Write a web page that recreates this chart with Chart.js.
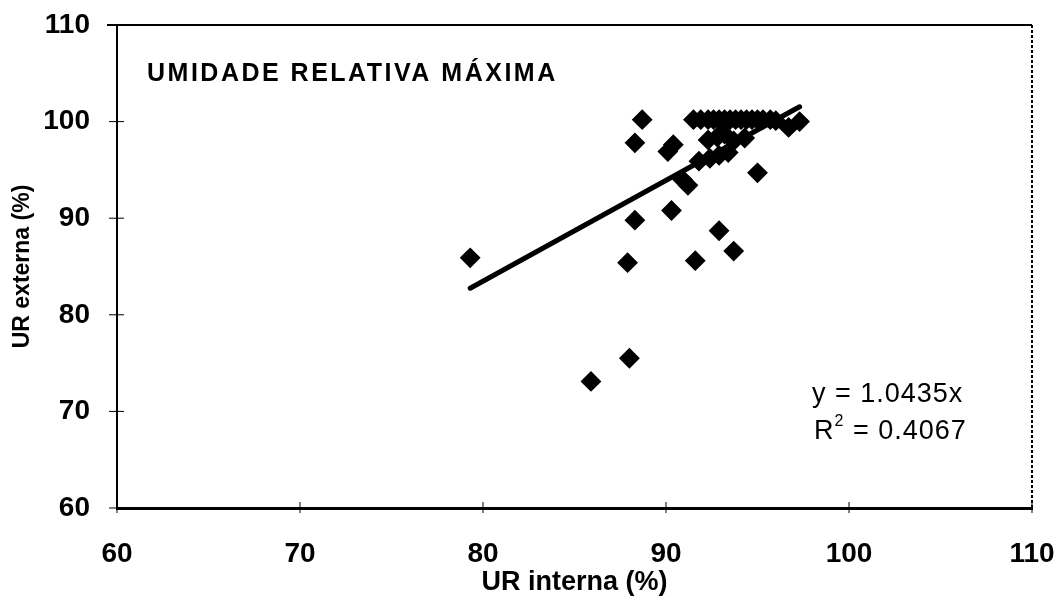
<!DOCTYPE html>
<html>
<head>
<meta charset="utf-8">
<script src="https://cdn.jsdelivr.net/npm/chart.js@4"></script>
<style>
  html, body { margin: 0; padding: 0; background: #fff; }
  #wrap { width: 1059px; height: 601px; position: relative; }
</style>
</head>
<body>
<div id="wrap"><canvas id="chart-ur-max"></canvas></div>
<script>
  // UR interna (x) vs UR externa (y), daily maximums
  const UR_INTERNA = [
    88.7, 91.5, 91.9, 92.3, 92.6, 92.9, 93.2, 93.5, 93.8, 94.1, 94.4, 94.7, 95.0, 95.3, 95.7,
    96.0, 96.7, 97.3,
    92.3, 92.8, 93.2, 93.7, 94.3,
    91.8, 92.4, 92.9, 93.4,
    88.3, 90.1, 90.4,
    79.3, 88.3, 90.3, 90.9, 91.2, 95.0,
    92.9, 93.7, 87.9, 91.6, 88.0, 85.9,
  ];
  const UR_EXTERNA = [
    100.2, 100.2, 100.2, 100.2, 100.2, 100.2, 100.2, 100.2, 100.2, 100.2, 100.2, 100.2, 100.2, 100.2, 100.2,
    100.1, 99.4, 100.0,
    98.1, 98.4, 98.7, 98.0, 98.3,
    95.9, 96.2, 96.5, 96.8,
    97.8, 96.9, 97.6,
    85.9, 89.8, 90.8, 94.0, 93.4, 94.7,
    88.7, 86.6, 85.4, 85.6, 75.5, 73.1,
  ];
  const AXIS_TICKS = [60, 70, 80, 90, 100, 110];
  const SLOPE = 1.0435;
  const R2 = 0.4067;
  const TITLE = 'UMIDADE RELATIVA MÁXIMA';

  const points = UR_INTERNA.map((x, i) => ({ x, y: UR_EXTERNA[i] }));
  const xMin = Math.min(...UR_INTERNA);
  const xMax = Math.max(...UR_INTERNA);
  const trend = [xMin, xMax].map(x => ({ x, y: SLOPE * x }));

  const FONT = 'Liberation Sans, Arial, sans-serif';

  // tick marks crossing both axes, frame on top/right, and the text labels
  const decor = {
    id: 'decor',
    afterDraw(chart) {
      const { ctx, chartArea: a, scales } = chart;
      ctx.save();
      ctx.strokeStyle = '#000';

      // top border
      ctx.lineWidth = 2;
      ctx.beginPath();
      ctx.moveTo(a.left - 10, a.top);
      ctx.lineTo(a.right, a.top);
      ctx.stroke();

      // right border, dotted
      ctx.lineWidth = 2;
      ctx.setLineDash([3, 2]);
      ctx.beginPath();
      ctx.moveTo(a.right, a.top);
      ctx.lineTo(a.right, a.bottom);
      ctx.stroke();
      ctx.setLineDash([]);

      // y ticks
      ctx.lineWidth = 1;
      for (const v of AXIS_TICKS) {
        const py = scales.y.getPixelForValue(v);
        ctx.beginPath();
        ctx.moveTo(a.left - 8, py);
        ctx.lineTo(a.left + 7, py);
        ctx.stroke();
      }
      // x ticks
      for (const v of AXIS_TICKS) {
        const px = scales.x.getPixelForValue(v);
        ctx.beginPath();
        ctx.moveTo(px, a.bottom - 6);
        ctx.lineTo(px, a.bottom + 5);
        ctx.stroke();
      }

      ctx.fillStyle = '#000';
      ctx.textBaseline = 'middle';
      ctx.textAlign = 'left';
      ctx.font = 'bold 25px ' + FONT;
      ctx.letterSpacing = '2.5px';
      ctx.fillText(TITLE, 147, 74);

      ctx.font = '27px ' + FONT;
      ctx.letterSpacing = '1px';
      ctx.fillText('y = ' + SLOPE.toFixed(4) + 'x', 812, 395);
      ctx.fillText('R', 814, 432);
      const rw = ctx.measureText('R').width;
      ctx.font = '16px ' + FONT;
      ctx.fillText('2', 814 + rw, 422);
      const sw = ctx.measureText('2').width;
      ctx.font = '27px ' + FONT;
      ctx.fillText(' = ' + R2.toFixed(4), 814 + rw + sw, 432);
      ctx.restore();
    },
  };

  const ctx = document.getElementById('chart-ur-max').getContext('2d');
  new Chart(ctx, {
    type: 'scatter',
    data: {
      datasets: [
        {
          label: 'UR',
          data: points,
          pointStyle: 'rectRot',
          pointRadius: 9,
          pointHoverRadius: 9,
          backgroundColor: '#000',
          borderColor: '#000',
          borderWidth: 2,
          order: 1,
        },
        {
          type: 'line',
          label: 'Linear',
          data: trend,
          borderColor: '#000',
          borderWidth: 5,
          borderCapStyle: 'round',
          pointRadius: 0,
          fill: false,
          order: 0,
        },
      ],
    },
    options: {
      responsive: true,
      maintainAspectRatio: false,
      animation: false,
      layout: { padding: { top: 25, right: 27, left: 0, bottom: 0 } },
      plugins: { legend: { display: false }, tooltip: { enabled: false } },
      scales: {
        x: {
          type: 'linear',
          min: 60,
          max: 110,
          afterBuildTicks: s => { s.ticks = AXIS_TICKS.map(value => ({ value })); },
          afterFit: s => {
            s.height = 93;
            s.paddingLeft = 0;
            s.paddingRight = 0;
          },
          grid: { drawOnChartArea: false, drawTicks: false },
          border: { color: '#000', width: 3 },
          ticks: {
            padding: 29,
            color: '#000',
            font: { family: FONT, size: 28, weight: 'bold' },
            maxRotation: 0,
          },
          title: {
            display: true,
            text: 'UR interna (%)',
            color: '#000',
            font: { family: FONT, size: 27, weight: 'bold' },
            padding: { top: 0, bottom: 2 },
          },
        },
        y: {
          type: 'linear',
          min: 60,
          max: 110,
          afterBuildTicks: s => { s.ticks = AXIS_TICKS.map(value => ({ value })); },
          afterFit: s => {
            s.width = 117;
            s.paddingTop = 0;
            s.paddingBottom = 0;
          },
          grid: { drawOnChartArea: false, drawTicks: false },
          border: { color: '#000', width: 2 },
          ticks: {
            padding: 27,
            color: '#000',
            font: { family: FONT, size: 28, weight: 'bold' },
          },
          title: {
            display: true,
            text: 'UR externa (%)',
            color: '#000',
            font: { family: FONT, size: 23, weight: 'bold' },
            padding: { top: 9, bottom: 0 },
          },
        },
      },
    },
    plugins: [decor],
  });
</script>
</body>
</html>
